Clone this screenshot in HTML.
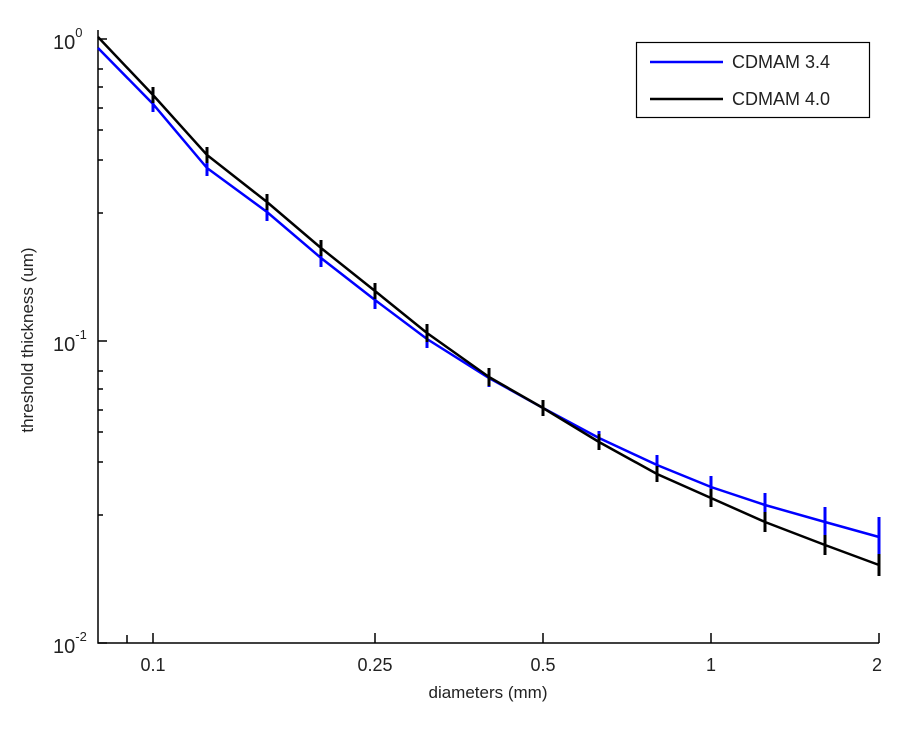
<!DOCTYPE html>
<html><head><style>body{margin:0;background:#fff}svg text{font-family:"Liberation Sans",sans-serif;fill:#222}</style></head>
<body>
<svg width="917" height="735" viewBox="0 0 917 735" xmlns="http://www.w3.org/2000/svg">
<rect width="917" height="735" fill="#fff"/>
<g stroke="#000" stroke-width="1.5" fill="none">
<path d="M98,30 V643 H879"/>
<path d="M98,39 h9 M98,341 h9 M98,643 h9"/>
<path d="M98,69 h5 M98,87 h5 M98,108 h5 M98,130 h5 M98,160 h5 M98,213 h5 M98,371 h5 M98,389 h5 M98,410 h5 M98,432 h5 M98,462 h5 M98,515 h5"/>
<path d="M127,643 v-8 M153,643 v-10 M375,643 v-10 M543,643 v-10 M711,643 v-10 M879,643 v-10"/>
</g>
<text x="153" y="671" font-size="18" text-anchor="middle">0.1</text>
<text x="375" y="671" font-size="18" text-anchor="middle">0.25</text>
<text x="543" y="671" font-size="18" text-anchor="middle">0.5</text>
<text x="711" y="671" font-size="18" text-anchor="middle">1</text>
<text x="877" y="671" font-size="18" text-anchor="middle">2</text>
<text x="53" y="49" font-size="20">10<tspan dy="-12" font-size="13">0</tspan></text>
<text x="53" y="351" font-size="20">10<tspan dy="-12" font-size="13">-1</tspan></text>
<text x="53" y="653" font-size="20">10<tspan dy="-12" font-size="13">-2</tspan></text>
<text x="488" y="698" font-size="17" text-anchor="middle">diameters (mm)</text>
<text transform="translate(33,340) rotate(-90)" font-size="17" text-anchor="middle">threshold thickness (um)</text>
<g stroke="#0000ff" stroke-width="2.5" fill="none">
<polyline points="98,48 153,104 207,168 267,212 321,258 375,300 427,339 489,378 543,408 599,438 657,465 711,487 765,505 825,522 879,537"/>
<g stroke-width="3">
<path d="M153,96 v16 M207,160 v16 M267,203 v18 M321,249 v18 M375,291 v18 M427,330 v18 M489,369 v18 M543,400 v16 M599,431 v16 M657,455 v20 M711,476 v22 M765,493 v24 M825,507 v30 M879,517 v40"/>
</g>
</g>
<g stroke="#000" stroke-width="2.5" fill="none">
<polyline points="98,37 153,95 207,155 267,202 321,248 375,291 427,333 489,377 543,408 599,442 657,474 711,498 765,522 825,545 879,565"/>
<g stroke-width="3">
<path d="M153,87 v16 M207,147 v16 M267,194 v16 M321,240 v16 M375,283 v16 M427,324 v18 M489,368 v18 M543,400 v16 M599,434 v16 M657,466 v16 M711,489 v18 M765,512 v20 M825,535 v20 M879,554 v22"/>
</g>
</g>
<rect x="636.5" y="42.5" width="233" height="75" fill="#fff" stroke="#000" stroke-width="1.2"/>
<line x1="650" y1="62" x2="723" y2="62" stroke="#0000ff" stroke-width="2.5"/>
<line x1="650" y1="99" x2="723" y2="99" stroke="#000" stroke-width="2.5"/>
<text x="732" y="68" font-size="18">CDMAM 3.4</text>
<text x="732" y="105" font-size="18">CDMAM 4.0</text>
</svg>
</body></html>
